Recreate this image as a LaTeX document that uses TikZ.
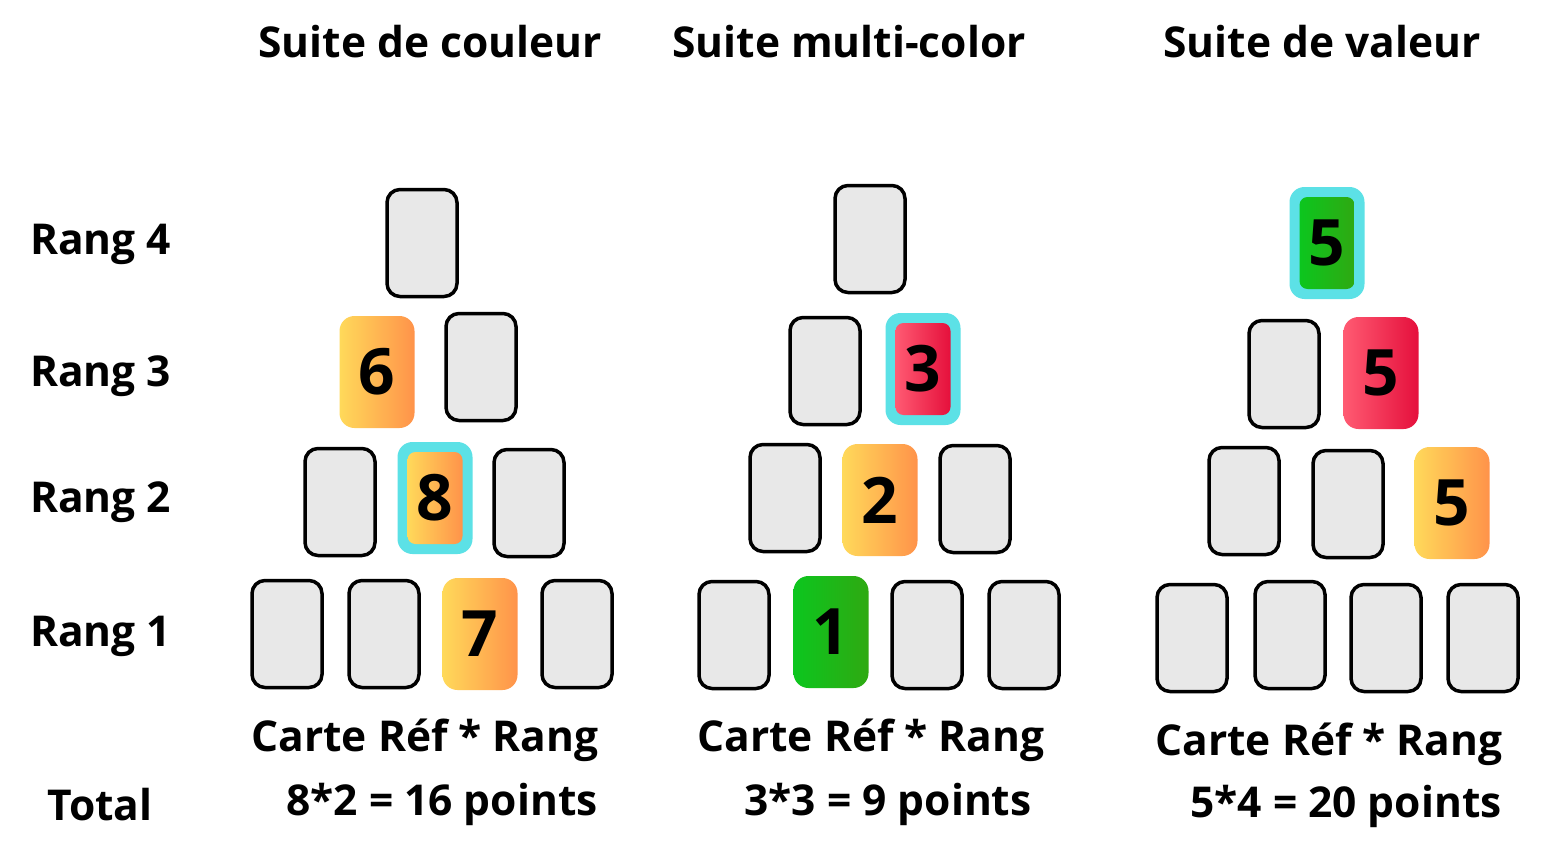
\documentclass[tikz,border=0pt]{standalone}
\usepackage{fontspec}
\setmainfont{Open Sans}
\definecolor{cardgray}{HTML}{E8E8E8}
\definecolor{oranL}{HTML}{FFD95A}
\definecolor{oranR}{HTML}{FF934A}
\definecolor{redL}{HTML}{FF5A72}
\definecolor{redR}{HTML}{E5103C}
\definecolor{greenL}{HTML}{0CC61E}
\definecolor{greenR}{HTML}{2FA912}
\definecolor{hlcyan}{HTML}{5CE1E6}
\tikzset{
  card/.style={draw=black, line width=3.5pt, fill=cardgray, rounded corners=13pt,
    minimum width=70pt, minimum height=107pt, inner sep=0pt},
  colcard/.style={rounded corners=15pt, minimum width=75pt, minimum height=112pt,
    inner sep=0pt, font=\fontsize{64}{64}\selectfont\bfseries},
  hlcard/.style={fill=hlcyan, rounded corners=15pt, minimum width=75pt, minimum height=112pt, inner sep=0pt},
  hlinner/.style={rounded corners=8pt, minimum width=55pt, minimum height=92pt,
    inner sep=0pt, font=\fontsize{64}{64}\selectfont\bfseries},
  orange/.style={left color=oranL, right color=oranR},
  redc/.style={left color=redL, right color=redR},
  greenc/.style={left color=greenL, right color=greenR},
  title/.style={font=\fontsize{42.5}{42.5}\selectfont\bfseries, inner sep=0pt},
  lab/.style={font=\fontsize{42.5}{42.5}\selectfont\bfseries, inner sep=0pt},
  ranglab/.style={font=\fontsize{42.5}{42.5}\selectfont\bfseries, inner sep=0pt, anchor=west},
}
\begin{document}
\begin{tikzpicture}[x=1pt,y=-1pt]
\useasboundingbox[fill=white] (0,0) rectangle (1552,848);
% titles
\node[title] (t1) at (430,42) {Suite de couleur};
\node[title] (t2) at (849,42) {Suite multi-color};
\node[title] (t3) at (1322,42) {Suite de valeur};
% rang labels
\node[ranglab] (r4) at (30,244) {Rang 4};
\node[ranglab] (r3) at (30,376) {Rang 3};
\node[ranglab] (r2) at (30,502) {Rang 2};
\node[ranglab] (r1) at (30,636) {Rang 1};
\node[lab] (tot) at (100,805) {Total};
% column 1
\node[card] (a41) at (422,243) {};
\node[colcard,orange] (a31) at (377,372) {6};
\node[card] (a32) at (481,367) {};
\node[card] (a21) at (340,502) {};
\node[hlcard] (a22h) at (435,498) {};
\node[hlinner,orange] (a22) at (435,498) {8};
\node[card] (a23) at (529,503) {};
\node[card] (a11) at (287,634) {};
\node[card] (a12) at (384,634) {};
\node[colcard,orange] (a13) at (480,634) {7};
\node[card] (a14) at (577,634) {};
% column 2
\node[card] (b41) at (870,239) {};
\node[card] (b31) at (825,371) {};
\node[hlcard] (b32h) at (923,369) {};
\node[hlinner,redc] (b32) at (923,369) {3};
\node[card] (b21) at (785,498) {};
\node[colcard,orange] (b22) at (880,500) {2};
\node[card] (b23) at (975,499) {};
\node[card] (b11) at (734,635) {};
\node[colcard,greenc] (b12) at (831,632) {1};
\node[card] (b13) at (927,635) {};
\node[card] (b14) at (1024,635) {};
% column 3
\node[hlcard] (c41h) at (1327,243) {};
\node[hlinner,greenc] (c41) at (1327,243) {5};
\node[card] (c31) at (1284,374) {};
\node[colcard,redc] (c32) at (1381,373) {5};
\node[card] (c21) at (1244,501) {};
\node[card] (c22) at (1348,504) {};
\node[colcard,orange] (c23) at (1452,503) {5};
\node[card] (c11) at (1192,638) {};
\node[card] (c12) at (1290,635) {};
\node[card] (c13) at (1386,638) {};
\node[card] (c14) at (1483,638) {};
% bottom texts
\node[lab] (f1) at (425,740) {Carte Réf * Rang};
\node[lab] (p1) at (442,804) {8*2 = 16 points};
\node[lab] (f2) at (871,740) {Carte Réf * Rang};
\node[lab] (p2) at (888,804) {3*3 = 9 points};
\node[lab] (f3) at (1329,744) {Carte Réf * Rang};
\node[lab] (p3) at (1346,806) {5*4 = 20 points};
\end{tikzpicture}
\end{document}
